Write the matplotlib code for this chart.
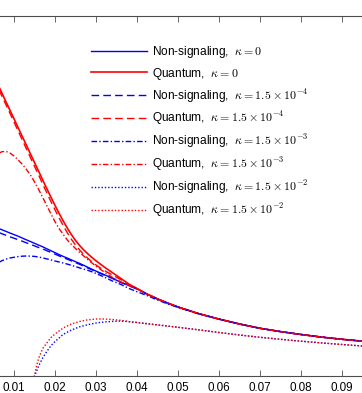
import numpy as np
import matplotlib
matplotlib.use('Agg')
import matplotlib.pyplot as plt

plt.rcParams['font.family'] = ['Liberation Sans', 'DejaVu Sans']
plt.rcParams['mathtext.fontset'] = 'cm'

# x grid of the read-off points (head part, curves still apart)
x_head = [0.006, 0.007, 0.008, 0.009, 0.010, 0.011, 0.012, 0.013, 0.014, 0.015,
          0.016, 0.017, 0.018, 0.019, 0.020, 0.021, 0.022, 0.023, 0.024, 0.025,
          0.026, 0.027, 0.028, 0.029, 0.030, 0.032, 0.034, 0.036, 0.038, 0.040]
# tail part, where all non-dotted curves run together
x_tail = [0.0425, 0.045, 0.0475, 0.050, 0.055, 0.060, 0.065, 0.070, 0.075,
          0.080, 0.085, 0.090, 0.095, 0.100]
bundle_tail = [0.788, 0.741, 0.699, 0.660, 0.594, 0.539, 0.490, 0.447, 0.414,
               0.385, 0.359, 0.337, 0.318, 0.301]

ns0_head = [1.450, 1.433, 1.417, 1.400, 1.384, 1.368, 1.350, 1.332, 1.315, 1.297,
            1.279, 1.262, 1.242, 1.223, 1.204, 1.184, 1.166, 1.149, 1.131, 1.113,
            1.096, 1.077, 1.057, 1.038, 1.019, 0.983, 0.948, 0.908, 0.875, 0.842]
q0_head = [2.891, 2.804, 2.716, 2.629, 2.542, 2.454, 2.367, 2.280, 2.192, 2.105,
           2.018, 1.930, 1.844, 1.759, 1.676, 1.596, 1.520, 1.449, 1.384, 1.326,
           1.275, 1.231, 1.192, 1.156, 1.122, 1.060, 1.004, 0.947, 0.890, 0.845]
ns4_head = [1.410, 1.393, 1.378, 1.362, 1.348, 1.333, 1.318, 1.302, 1.287, 1.271,
            1.255, 1.241, 1.223, 1.206, 1.189, 1.171, 1.154, 1.138, 1.121, 1.104,
            1.087, 1.069, 1.050, 1.032, 1.014, 0.980, 0.946, 0.907, 0.874, 0.840]
q4_head = [2.861, 2.774, 2.686, 2.599, 2.510, 2.420, 2.332, 2.244, 2.155, 2.067,
           1.980, 1.890, 1.802, 1.716, 1.632, 1.551, 1.474, 1.402, 1.337, 1.280,
           1.230, 1.186, 1.147, 1.112, 1.080, 1.025, 0.980, 0.935, 0.884, 0.843]
ns3_head = [1.098, 1.122, 1.138, 1.150, 1.157, 1.164, 1.168, 1.170, 1.169, 1.166,
            1.160, 1.151, 1.141, 1.131, 1.120, 1.110, 1.100, 1.089, 1.077, 1.064,
            1.051, 1.039, 1.027, 1.012, 0.996, 0.959, 0.920, 0.887, 0.846, 0.813]
ns3_tail = [0.773, 0.730, 0.690, 0.656, 0.592, 0.539, 0.490, 0.447, 0.414,
            0.385, 0.359, 0.337, 0.318, 0.301]
q3_head = [2.190, 2.212, 2.217, 2.200, 2.170, 2.132, 2.088, 2.038, 1.980, 1.912,
           1.836, 1.756, 1.674, 1.592, 1.513, 1.444, 1.386, 1.330, 1.286, 1.245,
           1.206, 1.170, 1.134, 1.101, 1.068, 1.010, 0.956, 0.913, 0.875, 0.840]

# kappa = 1.5e-2 curves start near x = 0.015
x_dot = [0.0149, 0.0152, 0.0155, 0.016, 0.017, 0.018, 0.019, 0.020, 0.022, 0.024,
         0.026, 0.028, 0.030, 0.032, 0.034, 0.036, 0.038, 0.040, 0.045, 0.050,
         0.055, 0.060, 0.065, 0.070, 0.075, 0.080, 0.085, 0.090, 0.095, 0.100]
q2 = [-0.04, 0.01, 0.07, 0.147, 0.245, 0.300, 0.354, 0.390, 0.450, 0.490,
      0.515, 0.532, 0.540, 0.540, 0.535, 0.527, 0.515, 0.505, 0.481, 0.457,
      0.432, 0.405, 0.380, 0.357, 0.337, 0.318, 0.301, 0.285, 0.270, 0.256]
ns2 = [-0.04, -0.011, 0.016, 0.069, 0.151, 0.215, 0.272, 0.315, 0.386, 0.430,
       0.462, 0.483, 0.500, 0.510, 0.516, 0.520, 0.513, 0.505, 0.481, 0.457,
       0.432, 0.405, 0.380, 0.357, 0.337, 0.318, 0.301, 0.285, 0.270, 0.256]

xticks = [0.01, 0.02, 0.03, 0.04, 0.05, 0.06, 0.07, 0.08, 0.09]

labels = [r'Non-signaling,  $\kappa = 0$',
          r'Quantum,  $\kappa = 0$',
          r'Non-signaling,  $\kappa = 1.5 \times 10^{-4}$',
          r'Quantum,  $\kappa = 1.5 \times 10^{-4}$',
          r'Non-signaling,  $\kappa = 1.5 \times 10^{-3}$',
          r'Quantum,  $\kappa = 1.5 \times 10^{-3}$',
          r'Non-signaling,  $\kappa = 1.5 \times 10^{-2}$',
          r'Quantum,  $\kappa = 1.5 \times 10^{-2}$']

blue = (0, 0, 1)
red = (1, 0, 0)
dash = (5.5, 3.0)
dashdot = (4.0, 1.6, 1.0, 1.6)
dot = (1.0, 1.4)

xf = x_head + x_tail
fig = plt.figure(figsize=(3.62, 3.93), dpi=100)
ax = fig.add_axes([-27 / 362, 17.5 / 393, 410 / 362, 359.5 / 393])

ax.plot(xf, ns0_head + bundle_tail, color=blue, lw=1.0, label=labels[0])
ax.plot(xf, q0_head + bundle_tail, color=red, lw=1.2, label=labels[1])
ax.plot(xf, ns4_head + bundle_tail, color=blue, lw=1.0, dashes=dash, label=labels[2])
ax.plot(xf, q4_head + bundle_tail, color=red, lw=1.0, dashes=dash, label=labels[3])
ax.plot(xf, ns3_head + ns3_tail, color=blue, lw=1.0, dashes=dashdot, label=labels[4])
ax.plot(xf, q3_head + bundle_tail, color=red, lw=1.0, dashes=dashdot, label=labels[5])
ax.plot(x_dot, ns2, color=blue, lw=1.0, dashes=dot, label=labels[6])
ax.plot(x_dot, q2, color=red, lw=1.0, dashes=dot, label=labels[7])

ax.set_xlim(0, 0.1)
ax.set_ylim(-0.025, 3.57)
ax.set_xticks(xticks)
ax.set_xticklabels(['%.2f' % v for v in xticks])
ax.set_yticks([])
ax.tick_params(axis='x', direction='in', length=4, width=0.6, color='0.3',
               top=True, bottom=True, labelsize=8.4, pad=5)
for s in ax.spines.values():
    s.set_color('0.3')
    s.set_linewidth(0.8)

ax.legend(loc='upper left', bbox_to_anchor=(91 / 362, 1 - 44.5 / 393),
          bbox_transform=fig.transFigure, frameon=False, fontsize=8.6,
          borderpad=0, borderaxespad=0, handlelength=4.69, handletextpad=0.42,
          labelspacing=0.42)

fig.savefig('out.png', dpi=100)
